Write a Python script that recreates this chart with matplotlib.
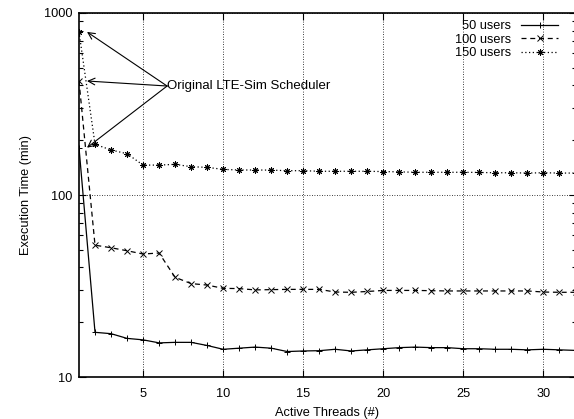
import numpy as np
import matplotlib
matplotlib.use('Agg')
import matplotlib.pyplot as plt
from matplotlib.ticker import LogLocator, NullFormatter, FixedLocator

plt.rcParams['font.family'] = ['Liberation Sans', 'DejaVu Sans']

threads = list(range(1, 33))
users_50 = [182, 17.6, 17.3, 16.3, 16.0, 15.4, 15.5, 15.5, 14.9, 14.2, 14.4, 14.6, 14.4, 13.8, 13.9, 13.95,
            14.2, 13.9, 14.1, 14.3, 14.5, 14.6, 14.5, 14.5, 14.3, 14.3, 14.2, 14.2, 14.1, 14.2, 14.1, 14.0]
users_100 = [423, 53, 51.3, 49.4, 47.4, 48, 35.3, 32.6, 32, 30.7, 30.6, 30.1, 30.2, 30.3, 30.3, 30.3,
             29.3, 29.2, 29.5, 29.9, 29.9, 29.9, 29.8, 29.7, 29.7, 29.7, 29.7, 29.7, 29.7, 29.3, 29.2, 29.2]
users_150 = [787, 190, 176.7, 168.6, 146, 146, 147.4, 143, 141.9, 138.3, 137.2, 137.2, 137.0, 136, 136, 135,
             135, 135, 135, 134.5, 134, 133.3, 133.3, 133.3, 133.3, 133, 132.5, 132.5, 132, 132.5, 132, 132]
series_labels = ['50 users', '100 users', '150 users']
annot_text = 'Original LTE-Sim Scheduler'

FS = 9.2

fig = plt.figure(figsize=(5.74, 4.19), dpi=100)
ax = fig.add_axes([79 / 574, 42 / 419, 496.5 / 574, 364 / 419])

mk = dict(color='black', markersize=4.5, markeredgewidth=0.7, lw=0.9)
ax.plot(threads, users_50, '-', marker='+', label=series_labels[0], **mk)
ax.plot(threads, users_100, marker='x', dashes=(4, 3), label=series_labels[1], **mk)
ax.plot(threads, users_150, marker=(8, 2, 0), dashes=(1, 2), label=series_labels[2], **mk)

ax.set_yscale('log')
ax.set_xlim(1, 32)
ax.set_ylim(10, 1000)
ax.xaxis.set_major_locator(FixedLocator([5, 10, 15, 20, 25, 30]))
ax.yaxis.set_major_locator(FixedLocator([10, 100, 1000]))
ax.yaxis.set_major_formatter(matplotlib.ticker.FuncFormatter(lambda v, p: '%d' % v))
ax.yaxis.set_minor_locator(LogLocator(base=10, subs=np.arange(2, 10)))
ax.yaxis.set_minor_formatter(NullFormatter())

ax.tick_params(which='both', direction='in', top=True, right=True, labelsize=FS)
ax.tick_params(axis='x', pad=8)
ax.tick_params(axis='y', pad=5)
ax.tick_params(which='major', length=5, width=0.8)
ax.tick_params(which='minor', length=3, width=0.8)
for s in ax.spines.values():
    s.set_linewidth(1.2)

ax.grid(True, which='major', color='black', linestyle=(0, (1, 2)), lw=0.6)

ax.set_xlabel('Active Threads (#)', fontsize=FS, labelpad=5)
ax.set_ylabel('Execution Time (min)', fontsize=FS, labelpad=8)

# label once, arrows from the same spot to each first point
txt_pos = (6.5, 397)
ax.text(txt_pos[0], txt_pos[1], annot_text, fontsize=9.5, va='center', ha='left')
for yv in [users_150[0], users_100[0], users_50[0]]:
    ax.annotate('', xy=(1.5, yv), xytext=txt_pos,
                arrowprops=dict(arrowstyle='->', color='black', lw=0.8, shrinkA=0, shrinkB=0,
                                mutation_scale=12))

ax.legend(loc='upper right', bbox_to_anchor=(0.965, 0.98), frameon=False, markerfirst=False,
          fontsize=FS, handlelength=2.9, handletextpad=0.75, labelspacing=0.12, borderpad=0,
          borderaxespad=0)

fig.savefig('out.png', dpi=100)
